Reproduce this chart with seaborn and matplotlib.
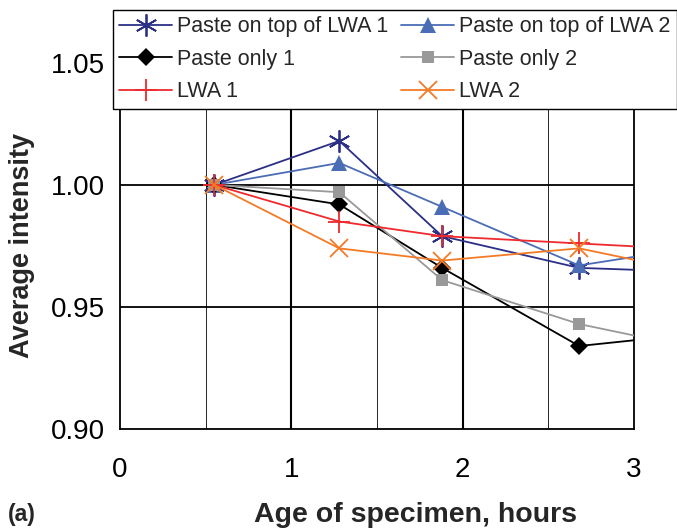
import matplotlib
matplotlib.use('Agg')
import matplotlib.pyplot as plt
import seaborn as sns
import pandas as pd

sns.set_style('white')
plt.rcParams['font.family'] = ['Liberation Sans', 'DejaVu Sans']

# age of specimen (hours) at each reading; last reading lies past the visible axis
age = [0.55, 1.28, 1.88, 2.68, 3.5]

paste_top_lwa1 = [1.000, 1.018, 0.979, 0.966, 0.964]
paste_top_lwa2 = [1.000, 1.009, 0.991, 0.967, 0.976]
paste_only1 = [1.000, 0.992, 0.966, 0.934, 0.940]
paste_only2 = [1.000, 0.997, 0.961, 0.943, 0.931]
lwa1 = [1.000, 0.985, 0.979, 0.976, 0.973]
lwa2 = [1.000, 0.974, 0.969, 0.974, 0.962]

series_names = ['Paste on top of LWA 1', 'Paste on top of LWA 2',
                'Paste only 1', 'Paste only 2', 'LWA 1', 'LWA 2']
series_values = [paste_top_lwa1, paste_top_lwa2, paste_only1,
                 paste_only2, lwa1, lwa2]

styles = {
    'Paste on top of LWA 1': dict(color='#2b2f86', marker=(6, 2, 0), ms=16, mew=1.3),
    'Paste on top of LWA 2': dict(color='#4b6db6', marker='^', ms=12, mew=0),
    'Paste only 1': dict(color='black', marker='D', ms=9, mew=0),
    'Paste only 2': dict(color='#999999', marker='s', ms=9, mew=0),
    'LWA 1': dict(color='#ee2a2e', marker='+', ms=16, mew=1.3),
    'LWA 2': dict(color='#f47b25', marker='x', ms=13, mew=1.3),
}

fig = plt.figure(figsize=(6.77, 5.30), dpi=100)
ax = fig.add_axes([120 / 677, 1 - 429 / 530, 514 / 677, 415 / 530])

for name, vals in zip(series_names, series_values):
    df = pd.DataFrame({'age': age, 'intensity': vals})
    st = styles[name]
    sns.lineplot(data=df, x='age', y='intensity', ax=ax, color=st['color'],
                 marker=st['marker'], markersize=st['ms'], markeredgewidth=st['mew'],
                 markeredgecolor=st['color'], linewidth=1.3, label=name,
                 legend=False, zorder=3)

ax.set_xlim(0, 3)
ax.set_ylim(0.9, 1.07)
ax.set_xticks([0, 1, 2, 3])
ax.set_yticks([0.90, 0.95, 1.00, 1.05])
ax.set_yticklabels(['0.90', '0.95', '1.00', '1.05'])

# gridlines: thin at half hours, heavier at whole hours and y ticks
for xv in [0.5, 1.5, 2.5]:
    ax.axvline(xv, color='black', lw=0.6, zorder=1)
for xv in [1, 2]:
    ax.axvline(xv, color='black', lw=1.5, zorder=1)
for yv in [0.95, 1.00, 1.05]:
    ax.axhline(yv, color='black', lw=1.3, zorder=1)

for side in ['left', 'bottom', 'right']:
    ax.spines[side].set_color('black')
    ax.spines[side].set_linewidth(1.3)
ax.spines['top'].set_visible(False)

ax.tick_params(direction='inout', length=10, width=1.3, labelsize=20, colors='black')
ax.tick_params(axis='x', pad=15)
ax.tick_params(axis='y', pad=6)
ax.set_xlabel('')
ax.set_ylabel('')

fig.text(416 / 677, 1 - 515 / 530, 'Age of specimen, hours', ha='center', va='center',
         fontsize=20.5, fontweight='bold')
fig.text(22 / 677, 1 - 245 / 530, 'Average intensity', ha='center', va='center',
         rotation=90, fontsize=19.5, fontweight='bold')
fig.text(8 / 677, 1 - 515 / 530, '(a)', ha='left', va='center',
         fontsize=16.5, fontweight='bold')

# legend fills row by row in the reference
handles, labels = ax.get_legend_handles_labels()
order = [0, 2, 4, 1, 3, 5]
leg = fig.legend([handles[i] for i in order], [labels[i] for i in order],
                 loc='upper left', bbox_to_anchor=(113 / 677, 1 - 10 / 530),
                 ncol=2, fontsize=15.5, frameon=True, fancybox=False, framealpha=1,
                 edgecolor='black', handlelength=2.45, handletextpad=0.23,
                 columnspacing=0.6, labelspacing=0.53, borderpad=0.3, borderaxespad=0)
leg.get_frame().set_linewidth(1.0)

fig.savefig('out.png', dpi=100)
